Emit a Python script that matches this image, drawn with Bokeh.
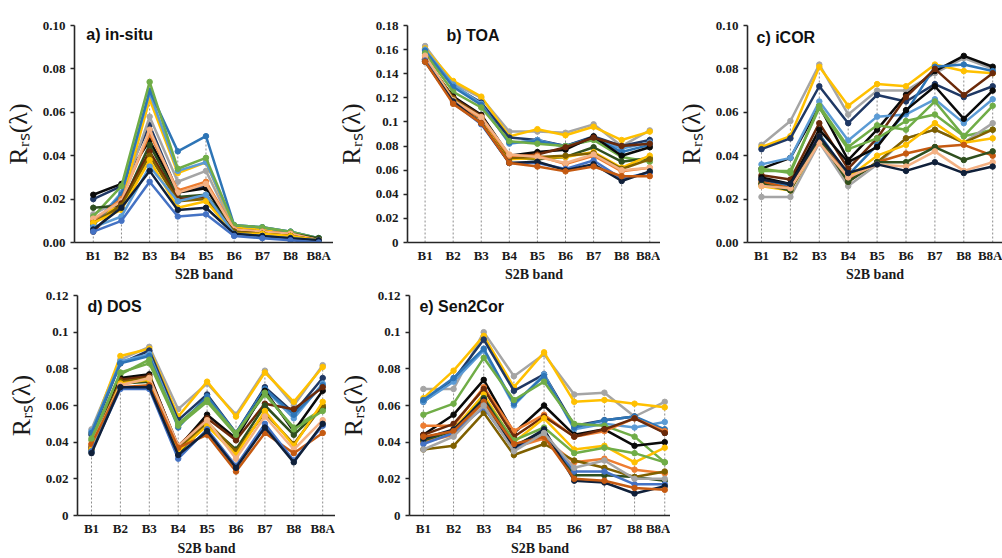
from bokeh.plotting import figure
from bokeh.models import Range1d, FixedTicker, Label
from bokeh.layouts import column, row
from bokeh.embed import file_html
from bokeh.resources import INLINE

BANDS = ["B1", "B2", "B3", "B4", "B5", "B6", "B7", "B8", "B8A"]

PAL = {
    "navy": "#1F3864", "black": "#0a0a0a", "gray": "#A5A5A5", "gold": "#FFC000",
    "lblue": "#5B9BD5", "blue": "#2E75B6", "green": "#70AD47", "dgreen": "#2F4F1F",
    "orange": "#ED7D31", "peach": "#F4B183", "brown": "#6B2A0A", "dgold": "#7F6000",
    "rblue": "#4472C4", "ndark": "#10203A", "ored": "#C55A11",
}

# a) in-situ
insitu_cols = ["navy", "black", "gray", "gold", "lblue", "blue", "green", "dgreen",
               "orange", "peach", "brown", "dgold", "gold", "lblue", "ndark", "rblue"]
insitu_vals = [
    [0.020, 0.026, 0.054, 0.023, 0.026, 0.005, 0.004, 0.003, 0.001],
    [0.022, 0.027, 0.047, 0.023, 0.025, 0.005, 0.004, 0.003, 0.001],
    [0.013, 0.020, 0.058, 0.028, 0.033, 0.006, 0.005, 0.004, 0.001],
    [0.010, 0.018, 0.066, 0.032, 0.037, 0.007, 0.006, 0.004, 0.001],
    [0.008, 0.023, 0.069, 0.033, 0.037, 0.008, 0.007, 0.005, 0.002],
    [0.008, 0.022, 0.070, 0.042, 0.049, 0.008, 0.007, 0.005, 0.002],
    [0.012, 0.026, 0.074, 0.034, 0.039, 0.008, 0.007, 0.005, 0.002],
    [0.016, 0.017, 0.045, 0.021, 0.022, 0.006, 0.005, 0.004, 0.002],
    [0.010, 0.020, 0.050, 0.024, 0.028, 0.006, 0.005, 0.004, 0.001],
    [0.011, 0.019, 0.052, 0.023, 0.027, 0.006, 0.005, 0.004, 0.001],
    [0.005, 0.018, 0.042, 0.020, 0.021, 0.005, 0.004, 0.003, 0.001],
    [0.009, 0.017, 0.040, 0.019, 0.020, 0.005, 0.004, 0.003, 0.001],
    [0.009, 0.015, 0.038, 0.016, 0.019, 0.004, 0.004, 0.003, 0.001],
    [0.007, 0.012, 0.035, 0.019, 0.022, 0.004, 0.003, 0.002, 0.001],
    [0.006, 0.016, 0.033, 0.015, 0.016, 0.004, 0.003, 0.002, 0.001],
    [0.005, 0.010, 0.028, 0.012, 0.013, 0.003, 0.002, 0.001, 0.000],
]

# b) TOA
toa_cols = ["gray", "gold", "navy", "lblue", "blue", "green", "black", "brown",
            "dgreen", "gold", "dgold", "orange", "peach", "rblue", "ndark", "ored"]
toa_vals = [
    [0.163, 0.132, 0.120, 0.092, 0.092, 0.091, 0.098, 0.080, 0.093],
    [0.161, 0.134, 0.121, 0.088, 0.094, 0.089, 0.096, 0.085, 0.092],
    [0.158, 0.130, 0.116, 0.087, 0.085, 0.080, 0.088, 0.080, 0.085],
    [0.160, 0.131, 0.115, 0.082, 0.085, 0.079, 0.086, 0.078, 0.083],
    [0.159, 0.129, 0.114, 0.083, 0.084, 0.080, 0.087, 0.075, 0.081],
    [0.157, 0.125, 0.112, 0.084, 0.082, 0.080, 0.085, 0.071, 0.067],
    [0.152, 0.121, 0.106, 0.072, 0.075, 0.077, 0.088, 0.072, 0.079],
    [0.153, 0.120, 0.105, 0.071, 0.073, 0.079, 0.087, 0.080, 0.082],
    [0.152, 0.118, 0.102, 0.070, 0.069, 0.071, 0.079, 0.067, 0.070],
    [0.154, 0.119, 0.103, 0.069, 0.070, 0.071, 0.075, 0.062, 0.072],
    [0.153, 0.119, 0.104, 0.070, 0.071, 0.072, 0.074, 0.061, 0.069],
    [0.153, 0.117, 0.103, 0.072, 0.072, 0.065, 0.072, 0.059, 0.062],
    [0.155, 0.118, 0.104, 0.073, 0.071, 0.066, 0.073, 0.060, 0.062],
    [0.151, 0.116, 0.098, 0.066, 0.066, 0.061, 0.068, 0.053, 0.058],
    [0.150, 0.117, 0.099, 0.066, 0.067, 0.060, 0.065, 0.051, 0.059],
    [0.150, 0.115, 0.099, 0.066, 0.063, 0.059, 0.063, 0.055, 0.055],
]

# c) iCOR
icor_cols = ["gray", "gold", "navy", "black", "lblue", "blue", "brown", "black",
             "green", "green", "gray", "dgold", "gold", "ored", "dgreen", "peach", "ndark"]
icor_vals = [
    [0.045, 0.056, 0.082, 0.059, 0.070, 0.070, 0.078, 0.085, 0.080],
    [0.044, 0.049, 0.081, 0.063, 0.073, 0.072, 0.082, 0.079, 0.078],
    [0.043, 0.048, 0.072, 0.055, 0.068, 0.065, 0.073, 0.067, 0.072],
    [0.034, 0.039, 0.063, 0.038, 0.052, 0.068, 0.079, 0.086, 0.081],
    [0.036, 0.039, 0.065, 0.047, 0.058, 0.059, 0.066, 0.055, 0.066],
    [0.029, 0.026, 0.050, 0.031, 0.045, 0.060, 0.081, 0.082, 0.079],
    [0.031, 0.029, 0.055, 0.034, 0.048, 0.067, 0.080, 0.068, 0.078],
    [0.030, 0.027, 0.052, 0.037, 0.044, 0.061, 0.072, 0.057, 0.070],
    [0.034, 0.032, 0.063, 0.044, 0.054, 0.052, 0.065, 0.049, 0.063],
    [0.033, 0.033, 0.062, 0.043, 0.048, 0.056, 0.059, 0.049, 0.052],
    [0.021, 0.021, 0.046, 0.026, 0.036, 0.048, 0.052, 0.046, 0.055],
    [0.027, 0.025, 0.048, 0.028, 0.037, 0.048, 0.052, 0.046, 0.052],
    [0.026, 0.024, 0.047, 0.030, 0.040, 0.045, 0.055, 0.046, 0.048],
    [0.028, 0.025, 0.049, 0.029, 0.037, 0.041, 0.044, 0.045, 0.040],
    [0.027, 0.024, 0.048, 0.028, 0.037, 0.037, 0.044, 0.038, 0.042],
    [0.026, 0.025, 0.046, 0.030, 0.036, 0.035, 0.042, 0.033, 0.037],
    [0.029, 0.027, 0.049, 0.032, 0.036, 0.033, 0.037, 0.032, 0.035],
]

# d) DOS
dos_cols = ["gray", "gold", "navy", "lblue", "blue", "green", "black", "brown",
            "dgreen", "dgold", "gold", "peach", "ored", "rblue", "ndark", "green"]
dos_vals = [
    [0.047, 0.085, 0.092, 0.058, 0.072, 0.055, 0.079, 0.060, 0.082],
    [0.045, 0.087, 0.091, 0.054, 0.073, 0.054, 0.078, 0.062, 0.081],
    [0.044, 0.083, 0.090, 0.052, 0.066, 0.045, 0.070, 0.056, 0.075],
    [0.046, 0.084, 0.088, 0.050, 0.064, 0.044, 0.069, 0.053, 0.072],
    [0.045, 0.083, 0.087, 0.048, 0.065, 0.045, 0.069, 0.055, 0.071],
    [0.041, 0.077, 0.085, 0.050, 0.063, 0.045, 0.066, 0.048, 0.058],
    [0.036, 0.075, 0.077, 0.037, 0.055, 0.042, 0.068, 0.046, 0.068],
    [0.037, 0.074, 0.076, 0.038, 0.053, 0.041, 0.061, 0.058, 0.070],
    [0.035, 0.072, 0.073, 0.034, 0.050, 0.036, 0.060, 0.044, 0.059],
    [0.038, 0.073, 0.075, 0.036, 0.051, 0.035, 0.056, 0.039, 0.060],
    [0.036, 0.072, 0.074, 0.035, 0.049, 0.033, 0.057, 0.038, 0.062],
    [0.039, 0.071, 0.075, 0.038, 0.052, 0.031, 0.054, 0.036, 0.052],
    [0.039, 0.070, 0.071, 0.037, 0.044, 0.024, 0.045, 0.034, 0.045],
    [0.035, 0.069, 0.069, 0.031, 0.047, 0.027, 0.050, 0.030, 0.049],
    [0.034, 0.070, 0.070, 0.033, 0.046, 0.026, 0.048, 0.029, 0.050],
    [0.042, 0.078, 0.083, 0.049, 0.062, 0.044, 0.067, 0.047, 0.057],
]

# e) Sen2Cor
s2c_cols = ["gray", "gold", "navy", "lblue", "blue", "green", "black", "orange", "brown",
            "gold", "green", "orange", "dgreen", "dgold", "rblue", "ndark", "ored", "gray"]
s2c_vals = [
    [0.069, 0.069, 0.100, 0.076, 0.088, 0.066, 0.067, 0.054, 0.062],
    [0.064, 0.079, 0.098, 0.070, 0.089, 0.062, 0.063, 0.061, 0.059],
    [0.062, 0.074, 0.096, 0.068, 0.077, 0.049, 0.052, 0.054, 0.045],
    [0.062, 0.073, 0.090, 0.060, 0.077, 0.047, 0.050, 0.048, 0.051],
    [0.063, 0.075, 0.091, 0.061, 0.076, 0.048, 0.052, 0.054, 0.047],
    [0.055, 0.061, 0.086, 0.063, 0.073, 0.050, 0.049, 0.043, 0.029],
    [0.044, 0.055, 0.074, 0.045, 0.060, 0.044, 0.047, 0.038, 0.040],
    [0.049, 0.049, 0.070, 0.046, 0.055, 0.043, 0.046, 0.053, 0.046],
    [0.044, 0.050, 0.069, 0.043, 0.054, 0.043, 0.047, 0.053, 0.045],
    [0.040, 0.047, 0.066, 0.040, 0.053, 0.036, 0.038, 0.029, 0.037],
    [0.041, 0.046, 0.064, 0.041, 0.048, 0.034, 0.037, 0.034, 0.029],
    [0.040, 0.044, 0.062, 0.037, 0.042, 0.029, 0.031, 0.025, 0.023],
    [0.041, 0.046, 0.064, 0.038, 0.046, 0.022, 0.022, 0.021, 0.019],
    [0.036, 0.038, 0.056, 0.033, 0.039, 0.030, 0.026, 0.021, 0.024],
    [0.039, 0.045, 0.059, 0.036, 0.045, 0.024, 0.024, 0.017, 0.017],
    [0.042, 0.047, 0.063, 0.037, 0.047, 0.019, 0.018, 0.012, 0.016],
    [0.043, 0.046, 0.062, 0.039, 0.043, 0.020, 0.019, 0.015, 0.014],
    [0.036, 0.043, 0.060, 0.035, 0.045, 0.026, 0.030, 0.020, 0.020],
]

ticks_010 = [0.0, 0.02, 0.04, 0.06, 0.08, 0.1]
labels_010 = ["0.00", "0.02", "0.04", "0.06", "0.08", "0.10"]
ticks_018 = [0.0, 0.02, 0.04, 0.06, 0.08, 0.1, 0.12, 0.14, 0.16, 0.18]
labels_018 = ["0", "0.02", "0.04", "0.06", "0.08", "0.1", "0.12", "0.14", "0.16", "0.18"]
ticks_012 = [0.0, 0.02, 0.04, 0.06, 0.08, 0.1, 0.12]
labels_012 = ["0", "0.02", "0.04", "0.06", "0.08", "0.1", "0.12"]

AXC = "#262626"


def panel(rows, cols, width, height, left, top, bottom, b1_px, spacing, ymax,
          yt, yl, title, title_dx, title_dy, lab_standoff):
    frame_w = width - left
    frame_h = height - top - bottom
    x0 = -b1_px / spacing
    x1 = x0 + frame_w / spacing
    p = figure(width=width, height=height, x_range=Range1d(x0, x1),
               y_range=Range1d(0, ymax), output_backend="svg",
               toolbar_location=None, min_border_left=left, min_border_right=0,
               min_border_top=top, min_border_bottom=bottom)
    p.outline_line_color = None
    p.grid.visible = False
    p.background_fill_color = "white"
    p.border_fill_color = "white"
    xs = list(range(len(BANDS)))
    maxes = [max(r[i] for r in rows) for i in xs]
    p.segment(x0=xs, y0=[0] * len(xs), x1=xs, y1=maxes, line_color="#8c8c8c",
              line_dash="2 2", line_width=1)
    for r, c in zip(rows, cols):
        p.line(xs, r, line_color=PAL[c], line_width=2.5)
        p.scatter(xs, r, size=5.5, fill_color=PAL[c], line_color=PAL[c])

    xa = p.xaxis[0]
    xa.ticker = FixedTicker(ticks=xs)
    xa.major_label_overrides = {i: b for i, b in enumerate(BANDS)}
    xa.major_tick_out = 0
    xa.major_tick_in = 0
    xa.minor_tick_out = 0
    xa.minor_tick_in = 0
    xa.major_label_standoff = 5
    xa.axis_label = "S2B band"
    xa.axis_label_text_font = "Liberation Serif"
    xa.axis_label_text_font_style = "bold"
    xa.axis_label_text_font_size = "14px"
    xa.axis_label_standoff = lab_standoff
    ya = p.yaxis[0]
    ya.ticker = FixedTicker(ticks=yt)
    ya.major_label_overrides = {t: l for t, l in zip(yt, yl)}
    ya.major_tick_out = 4
    ya.major_tick_in = 0
    ya.minor_tick_out = 0
    ya.minor_tick_in = 0
    ya.major_label_standoff = 5
    ya.axis_label = "R\u1d63\u209b(\u03bb)"
    ya.axis_label_text_font = "Liberation Serif"
    ya.axis_label_text_font_style = "normal"
    ya.axis_label_text_font_size = "26px"
    ya.axis_label_standoff = 7
    for ax in (xa, ya):
        ax.axis_line_color = AXC
        ax.axis_line_width = 1.6
        ax.major_tick_line_color = AXC
        ax.major_tick_line_width = 1.3
        ax.major_label_text_font = "Liberation Serif"
        ax.major_label_text_font_style = "bold"
        ax.major_label_text_font_size = "13px"
        ax.major_label_text_color = "#1a1a1a"
        ax.axis_label_text_color = "#1a1a1a"

    ppx = ymax / frame_h
    p.add_layout(Label(x=x0 + title_dx / spacing, y=ymax - title_dy * ppx, text=title,
                       text_font="Liberation Sans", text_font_style="bold",
                       text_font_size="16px", text_align="left",
                       text_baseline="middle", text_color="#111111"))
    return p


pa = panel(insitu_vals, insitu_cols, 333, 284, 71, 16, 40, 19, 28.5, 0.10,
           ticks_010, labels_010, "a) in-situ", 12, 9, 1)
pb = panel(toa_vals, toa_cols, 327, 284, 68, 16, 37, 18, 28.75, 0.18,
           ticks_018, labels_018, "b) TOA", 40, 11, 1)
pc = panel(icor_vals, icor_cols, 342, 284, 87, 25, 35, 14, 28.9, 0.10,
           ticks_010, labels_010, "c) iCOR", 9, 12, 1)
pd_ = panel(dos_vals, dos_cols, 335, 274, 77, 11, 39, 14, 28.9, 0.12,
            ticks_012, labels_012, "d) DOS", 10, 11, 2)
pe = panel(s2c_vals, s2c_cols, 335, 274, 72, 11, 39, 14, 30.4, 0.12,
           ticks_012, labels_012, "e) Sen2Cor", 10, 11, 2)

layout = column(row(pa, pb, pc), row(pd_, pe))
open("out.html", "w").write(file_html(layout, INLINE))
